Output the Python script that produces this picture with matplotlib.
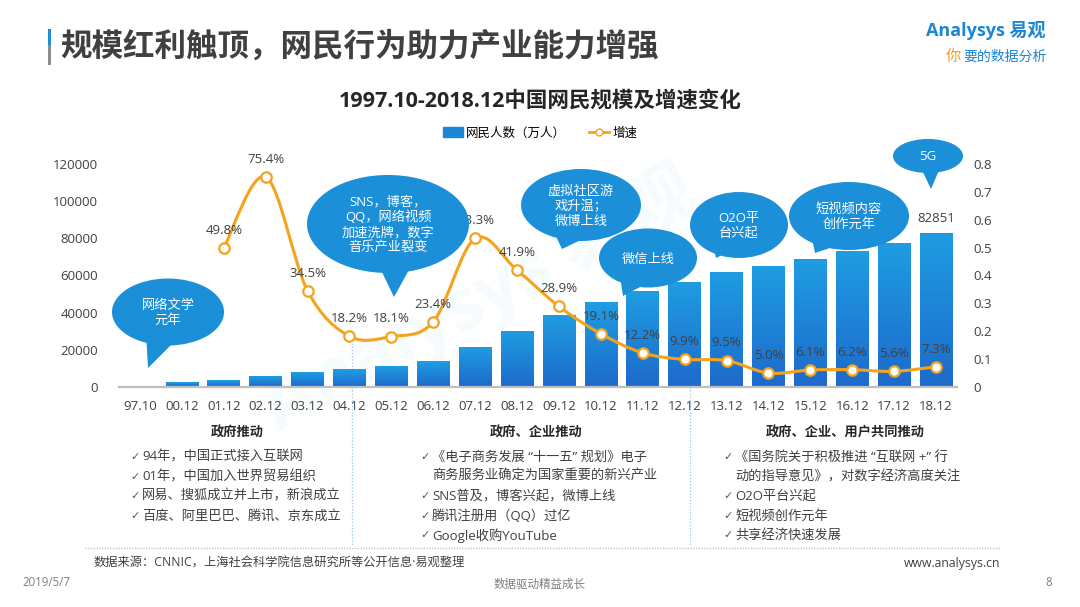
import numpy as np
import matplotlib
matplotlib.use("Agg")
import matplotlib.pyplot as plt
from matplotlib.patches import Ellipse, Polygon, Rectangle, PathPatch
from matplotlib.path import Path
from matplotlib.lines import Line2D
from matplotlib.colors import LinearSegmentedColormap

plt.rcParams['font.family'] = ['Open Sans', 'Noto Sans CJK SC', 'DejaVu Sans']

# ---- data ----
periods = ["97.10", "00.12", "01.12", "02.12", "03.12", "04.12", "05.12", "06.12",
           "07.12", "08.12", "09.12", "10.12", "11.12", "12.12", "13.12", "14.12",
           "15.12", "16.12", "17.12", "18.12"]
netizens = [62, 2250, 3370, 5910, 7950, 9400, 11100, 13700, 21000, 29800, 38400,
            45730, 51310, 56400, 61758, 64875, 68826, 73125, 77198, 82851]
growth_periods = periods[2:]
growth = [0.498, 0.754, 0.345, 0.182, 0.181, 0.234, 0.533, 0.419, 0.289, 0.191,
          0.122, 0.099, 0.095, 0.050, 0.061, 0.062, 0.056, 0.073]
growth_text = ["49.8%", "75.4%", "34.5%", "18.2%", "18.1%", "23.4%", "53.3%", "41.9%",
               "28.9%", "19.1%", "12.2%", "9.9%", "9.5%", "5.0%", "6.1%", "6.2%",
               "5.6%", "7.3%"]
left_ticks = [0, 20000, 40000, 60000, 80000, 100000, 120000]
right_ticks = [0, 0.1, 0.2, 0.3, 0.4, 0.5, 0.6, 0.7, 0.8]

# callouts: text, ellipse centre/size (px), tail (px)
bubbles = [
    ("网络文学\n元年", (168, 312), 112, 67, [(146, 333), (172, 344), (148, 368)]),
    ("SNS，博客，\nQQ，网络视频\n加速洗牌，数字\n音乐产业裂变", (388, 224), 162, 98,
     [(380, 268), (410, 268), (394, 297)]),
    ("虚拟社区游\n戏升温；\n微博上线", (581, 205), 120, 72, [(553, 230), (585, 238), (562, 249)]),
    ("微信上线", (648, 258), 98, 59, [(620, 276), (642, 286), (623, 296)]),
    ("O2O平\n台兴起", (739, 225), 98, 66, [(712, 240), (732, 250), (716, 258)]),
    ("短视频内容\n创作元年", (849, 216), 120, 68, [(812, 238), (836, 246), (815, 253)]),
    ("5G", (928, 156), 70, 34, [(921, 168), (940, 168), (931, 189)]),
]

sections = [
    ("政府推动", 237, 130,
     ["94年，中国正式接入互联网", "01年，中国加入世界贸易组织",
      "网易、搜狐成立并上市，新浪成立", "百度、阿里巴巴、腾讯、京东成立"]),
    ("政府、企业推动", 536, 420,
     ["《电子商务发展 “十一五” 规划》电子\n商务服务业确定为国家重要的新兴产业",
      "SNS普及，博客兴起，微博上线", "腾讯注册用（QQ）过亿", "Google收购YouTube"]),
    ("政府、企业、用户共同推动", 845, 723,
     ["《国务院关于积极推进 “互联网 +” 行\n动的指导意见》，对数字经济高度关注",
      "O2O平台兴起", "短视频创作元年", "共享经济快速发展"]),
]

BLUE = "#1b8fd8"
ORANGE = "#f5a21c"
DARK = "#404040"

W, H = 1080, 607
fig = plt.figure(figsize=(W / 100, H / 100), dpi=100)
fig.patch.set_facecolor("white")

# background layer in pixel coords
bg = fig.add_axes([0, 0, 1, 1], zorder=-1)
bg.set_xlim(0, W)
bg.set_ylim(H, 0)
bg.axis("off")

# separators
for sx in [352, 690]:
    bg.plot([sx, sx], [340, 545], color="#9dc3e6", lw=0.9, ls=(0, (1, 1.5)))
bg.plot([85, 1000], [548, 548], color="#bfbfbf", lw=0.9, ls=(0, (1, 1.2)))

# faint watermark
bg.text(480, 300, "Analysys 易观", fontsize=52, color=BLUE, alpha=0.04,
        rotation=28, ha="center", va="center", fontweight="bold")

# ---- main chart ----
ax = fig.add_axes([119 / W, 1 - 387 / H, (957 - 119) / W, (387 - 164) / H])
ax.patch.set_visible(False)
x = np.arange(len(periods))
cmap = LinearSegmentedColormap.from_list("bars", ["#1d6acb", "#1f9de2"])
grad = np.linspace(0, 1, 256).reshape(-1, 1)
bars = ax.bar(x, netizens, width=0.78, color="none")
for b in bars:
    ax.imshow(grad, extent=[b.get_x(), b.get_x() + b.get_width(), 0, b.get_height()],
              origin="lower", aspect="auto", cmap=cmap, zorder=2)
ax.set_xlim(-0.5, len(periods) - 0.5)
ax.set_ylim(0, 120000)
ax.set_yticks(left_ticks)
ax.set_xticks(x)
ax.set_xticklabels(periods)
for s in ["top", "left", "right"]:
    ax.spines[s].set_visible(False)
ax.spines["bottom"].set_color("#bfbfbf")
ax.spines["bottom"].set_linewidth(1.6)
ax.spines["bottom"].set_zorder(3)
ax.tick_params(axis="y", length=0, pad=15, labelsize=9.5, labelcolor=DARK)
ax.tick_params(axis="x", length=0, pad=9, labelsize=9.5, labelcolor=DARK)
ax.annotate(f"{netizens[-1]}", (x[-1], netizens[-1]), xytext=(0, 6),
            textcoords="offset points", ha="center", va="bottom",
            fontsize=9.5, color=DARK)

ax2 = ax.twinx()
ax2.set_ylim(0, 0.8)
ax2.set_yticks(right_ticks)
ax2.set_yticklabels([f"{v:g}" for v in right_ticks])
for s in ax2.spines.values():
    s.set_visible(False)
ax2.tick_params(axis="y", length=0, pad=12, labelsize=9.5, labelcolor=DARK)

# smoothed growth line (Bezier through the data points)
gx = np.array([periods.index(p) for p in growth_periods], dtype=float)
gy = np.array(growth)
pts = np.column_stack([gx, gy])
verts, codes = [pts[0]], [Path.MOVETO]
n = len(pts)
for i in range(n - 1):
    p0 = pts[i - 1] if i > 0 else pts[i]
    p1, p2 = pts[i], pts[i + 1]
    p3 = pts[i + 2] if i + 2 < n else pts[i + 1]
    verts += [p1 + (p2 - p0) / 6, p2 - (p3 - p1) / 6, p2]
    codes += [Path.CURVE4] * 3
ax2.add_patch(PathPatch(Path(verts, codes), fill=False, edgecolor=ORANGE, lw=2.2, zorder=3))
ax2.plot(gx, gy, ls="none", marker="o", ms=7.5, mfc="white", mec=ORANGE, mew=1.6, zorder=4)
for xi, yi, t in zip(gx, gy, growth_text):
    ax2.annotate(t, (xi, yi), xytext=(0, 8), textcoords="offset points",
                 ha="center", va="bottom", fontsize=9.5, color=DARK, zorder=5)

handles = [Rectangle((0, 0), 1, 1, color="#1c86d8"),
           Line2D([], [], color=ORANGE, lw=2, marker="o", ms=5, mfc="white", mec=ORANGE)]
ax2.legend(handles, ["网民人数（万人）", "增速"], ncol=2, loc="center",
           bbox_to_anchor=(540 / W, 1 - 133 / H), bbox_transform=fig.transFigure,
           frameon=False, fontsize=9, handlelength=1.6, handleheight=0.8,
           handletextpad=0.3, columnspacing=1.8)

# ---- overlay: bubbles and text ----
ov = fig.add_axes([0, 0, 1, 1], zorder=5)
ov.set_xlim(0, W)
ov.set_ylim(H, 0)
ov.axis("off")
ov.patch.set_alpha(0)

for txt, (cx, cy), bw, bh, tail in bubbles:
    ov.add_patch(Polygon(tail, closed=True, color=BLUE, lw=0))
    ov.add_patch(Ellipse((cx, cy), bw, bh, color=BLUE, lw=0))
    ov.text(cx, cy + 1, txt, ha="center", va="center", color="white",
            fontsize=9.5, linespacing=1.2)

# headline
ov.add_patch(Rectangle((47.5, 29), 3.5, 16, color="#1b8fd8", lw=0))
ov.add_patch(Rectangle((47.5, 45), 3.5, 20, color="#8c8c8c", lw=0))
ov.text(60, 47, "规模红利触顶，网民行为助力产业能力增强", fontsize=22.7,
        fontweight="bold", color=DARK, ha="left", va="center")
ov.text(540, 101, "1997.10-2018.12中国网民规模及增速变化", fontsize=15.5,
        fontweight="bold", color="#262626", ha="center", va="center")

# logo
ov.text(1046, 31, "Analysys 易观", fontsize=13, color="#1a86d4", ha="right",
        va="center", fontweight="bold")
tag = ov.text(1046, 57, "要的数据分析", fontsize=10, color="#1a86d4", ha="right",
              va="center", style="italic")
ov.annotate("你", xy=(0, 0.5), xycoords=tag, xytext=(-1, 0), textcoords="offset points",
            fontsize=11, color="#f39a1e", ha="right", va="center", style="italic")

# sections
for head, hx, lx, items in sections:
    ov.text(hx, 433, head, ha="center", va="center", fontsize=9.5,
            fontweight="bold", color="#262626")
    y = 457
    for item in items:
        lines = item.split("\n")
        ov.text(lx, y, "✓", ha="left", va="center", fontsize=8, color="#595959",
                family="DejaVu Sans")
        for ln in lines:
            ov.text(lx + 12, y, ln, ha="left", va="center", fontsize=9.5, color=DARK)
            y += 19.6

# footer
ov.text(94, 563, "数据来源：CNNIC，上海社会科学院信息研究所等公开信息·易观整理",
        ha="left", va="center", fontsize=8.8, color=DARK)
ov.text(1000, 563, "www.analysys.cn", ha="right", va="center", fontsize=8.8, color=DARK)
ov.text(22, 583, "2019/5/7", ha="left", va="center", fontsize=8.3, color="#7f7f7f")
ov.text(540, 584, "数据驱动精益成长", ha="center", va="center", fontsize=8.3, color="#7f7f7f")
ov.text(1052, 583, "8", ha="right", va="center", fontsize=8.3, color="#7f7f7f")

fig.savefig("out.png", dpi=100)
